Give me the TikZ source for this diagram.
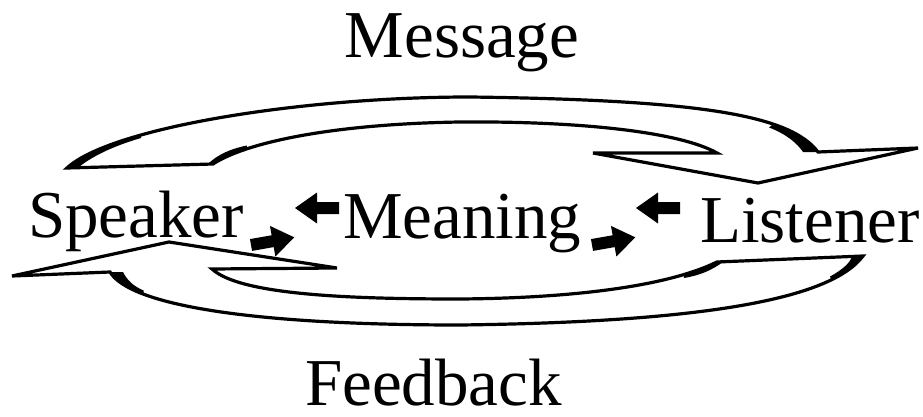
\documentclass[tikz,border=0pt]{standalone}
\usepackage{fontspec}
\setmainfont{Liberation Serif}
\tikzset{
  band/.style={draw=black, line width=3.2pt, line join=miter, miter limit=6, fill=white},
  lbl/.style={font=\fontsize{67}{72}\selectfont, inner sep=0pt, anchor=base west},
  ink/.style={fill=black},
}
% solid block arrow: tail at (#1,#2), pointing along angle #3
\newcommand\blockarrow[3]{%
  \fill[ink, shift={(#1,#2)}, rotate=#3]
    (0,-6) -- (22,-6) -- (22,-15.5) -- (44,0) -- (22,15.5) -- (22,6) -- (0,6) -- cycle;}
\begin{document}
\begin{tikzpicture}[x=1pt,y=-1pt]
\useasboundingbox (0,0) rectangle (923,417);

% upper band: the message, curving from the speaker over to the listener
\path[band]
  (67,168) -- (213,164)
  .. controls (245,143) and (330,124) .. (460,122)
  .. controls (580,121) and (680,132) .. (717,153)
  -- (593,153) -- (758,183) -- (918,148) -- (818,152)
  .. controls (790,115) and (700,100) .. (470,97)
  .. controls (300,97) and (110,128) .. (67,168) -- cycle;
% thickened strokes of the upper band
\fill[ink] (141.1,135.2) .. controls (106.1,144.9) and (79.9,156) .. (67,168)
  -- (79,167) .. controls (90,158) and (110,147) .. (141,138) -- cycle;
\fill[ink] (213,164) .. controls (221,158.75) and (232.3,153.6) .. (246.8,148.9)
  -- (246.8,145.5) .. controls (230,149) and (217,155) .. (208,164) -- cycle;
\fill[ink] (818,152) .. controls (809,140.9) and (795,131.8) .. (772.9,124.4)
  -- (769,127.5) .. controls (786,134) and (797,143) .. (803,152) -- cycle;

% lower band: the feedback, curving from the listener back to the speaker
\path[band]
  (12,276) -- (169,242) -- (337,268) -- (212,269)
  .. controls (240,295) and (350,299) .. (460,299)
  .. controls (580,298) and (670,285) .. (717,262)
  -- (863,256)
  .. controls (830,300) and (700,322) .. (460,325)
  .. controls (250,325) and (130,305) .. (110,272) -- cycle;
% thickened strokes of the lower band
\fill[ink] (143.6,294.2) .. controls (126.25,287.7) and (115,280.25) .. (110,272)
  -- (123,272) .. controls (127,280) and (133,286) .. (143.6,290.5) -- cycle;
\fill[ink] (683.8,274.6) .. controls (696.5,270.8) and (707.6,266.6) .. (717,262)
  -- (723,262) .. controls (712,270) and (700,275.5) .. (683.8,278) -- cycle;
\fill[ink] (863,256) .. controls (856.4,264.8) and (845.9,272.7) .. (831.4,279.8)
  -- (830,276.5) .. controls (842,270) and (850,263) .. (852,256.5) -- cycle;

% labels
\node[lbl, anchor=base] (message) at (462,58) {Message};
\node[lbl] (speaker) at (28,237) {Speaker};
\node[lbl] (meaning) at (343,238) {Meaning};
\node[lbl] (listener) at (700,242) {Listener};
\node[lbl, text depth=0pt] (feedback) at (305,405) {Feedback};

% small block arrows between the words
\blockarrow{251}{245}{10}
\blockarrow{339}{208}{180}
\blockarrow{592}{245}{10}
\blockarrow{680}{208}{180}
\end{tikzpicture}
\end{document}
